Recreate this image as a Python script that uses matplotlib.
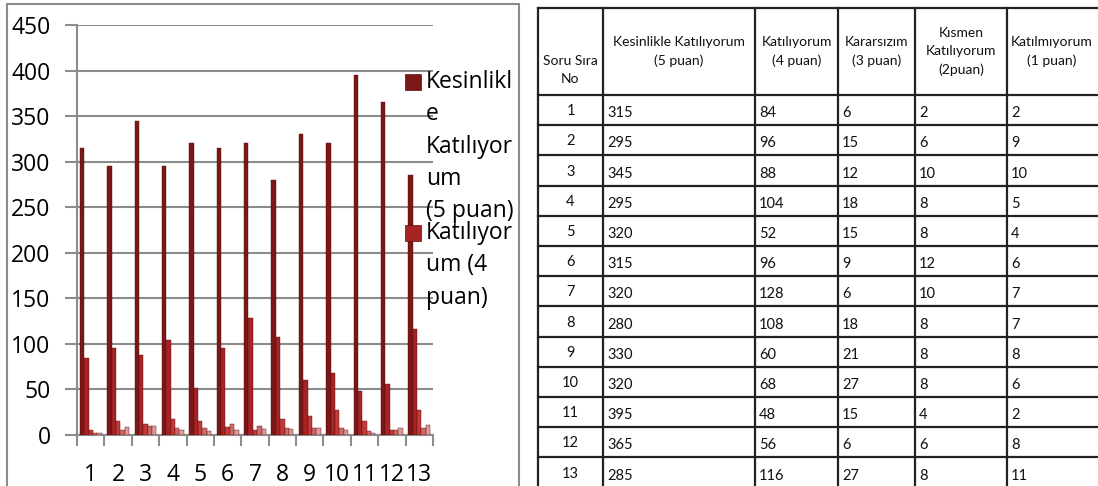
import numpy as np
import matplotlib
matplotlib.use("Agg")
import matplotlib.pyplot as plt
from matplotlib.patches import Rectangle

soru_no = ["1", "2", "3", "4", "5", "6", "7", "8", "9", "10", "11", "12", "13"]
kesinlikle = [315, 295, 345, 295, 320, 315, 320, 280, 330, 320, 395, 365, 285]
katiliyorum = [84, 96, 88, 104, 52, 96, 128, 108, 60, 68, 48, 56, 116]
kararsizim = [6, 15, 12, 18, 15, 9, 6, 18, 21, 27, 15, 6, 27]
kismen = [2, 6, 10, 8, 8, 12, 10, 8, 8, 8, 4, 6, 8]
katilmiyorum = [2, 9, 10, 5, 4, 6, 7, 7, 8, 6, 2, 8, 11]

basliklar = ["Soru Sıra\nNo", "Kesinlikle Katılıyorum\n(5 puan)", "Katılıyorum\n(4 puan)",
             "Kararsızım\n(3 puan)", "Kısmen\nKatılıyorum\n(2puan)", "Katılmıyorum\n(1 puan)"]
legend_labels = ["Kesinlikl\ne\nKatılıyor\num\n(5 puan)", "Katılıyor\num (4\npuan)"]

series = [kesinlikle, katiliyorum, kararsizim, kismen, katilmiyorum]
colors = ["#7a1818", "#a82424", "#c23a3a", "#cf6a6a", "#dc9a9a"]

W, H = 1098, 486
fig = plt.figure(figsize=(W / 100, H / 100), dpi=100)

# cadre gris du graphique
fig.patches.append(Rectangle((7 / W, -0.01), (519 - 7) / W, 1 - 4 / H + 0.01,
                             transform=fig.transFigure, fill=False,
                             edgecolor="#8c8c8c", linewidth=1.5))

ax = fig.add_axes([77 / W, 1 - 435 / H, (433 - 77) / W, (435 - 25) / H])
n = len(soru_no)
x = np.arange(n)
bw = 0.16
for i, s in enumerate(series):
    ax.bar(x - 0.4 + bw * (i + 0.5), s, width=bw, color=colors[i],
           edgecolor="#5a0e0e", linewidth=0.3, zorder=3)

ax.set_ylim(0, 450)
ax.set_xlim(-0.5, n - 0.5)
ax.set_yticks(np.arange(0, 451, 50))
ax.yaxis.grid(True, color="#8c8c8c", linewidth=1.5, zorder=0)
ax.tick_params(axis="y", length=9, width=1.5, color="#8c8c8c", labelsize=16.5, pad=10)
ax.set_xticks(x)
ax.set_xticklabels(soru_no, fontsize=16.5)
ax.set_xticks(np.arange(-0.5, n, 1), minor=True)
ax.tick_params(axis="x", which="major", length=0, pad=20, labelsize=16.5)
ax.tick_params(axis="x", which="minor", length=8, width=1.5, color="#8c8c8c")
for sp in ["top", "right"]:
    ax.spines[sp].set_visible(False)
ax.spines["left"].set_color("#8c8c8c")
ax.spines["bottom"].set_color("#8c8c8c")
ax.spines["left"].set_linewidth(1.5)
ax.spines["bottom"].set_linewidth(1.5)
for lab in ax.get_yticklabels() + ax.get_xticklabels():
    lab.set_fontfamily("Open Sans")

# legende tronquee
for lab, col, ytop in zip(legend_labels, colors[:2], [82, 233]):
    fig.patches.append(Rectangle((405 / W, 1 - (ytop + 8) / H), 16 / W, 16 / H,
                                 transform=fig.transFigure, facecolor=col,
                                 edgecolor="#5a0e0e", linewidth=0.5, zorder=5))
    fig.text(426 / W, 1 - (ytop - 12) / H, lab, fontsize=16.5, family="Open Sans",
             va="top", ha="left", linespacing=1.46, zorder=6)

# tableau
tx = fig.add_axes([0, 0, 1, 1])
tx.set_xlim(0, W)
tx.set_ylim(H, 0)
tx.axis("off")
cols = [538, 603, 755, 838, 915, 1007, 1100]
top, head_bot, row_h = 8, 95, 30.2
rows_y = [head_bot + row_h * k for k in range(n + 1)]
for cx in cols:
    tx.plot([cx, cx], [top, rows_y[-1] + 2], color="#222222", lw=1.6)
for ry in [top] + rows_y:
    tx.plot([cols[0], W], [ry, ry], color="#222222", lw=1.6)

for j, h in enumerate(basliklar):
    cy = 70 if j == 0 else (top + head_bot) / 2
    tx.text((cols[j] + cols[j + 1]) / 2 if j < 5 else cols[j] + 45, cy, h,
            ha="center", va="center", fontsize=10, family="Lato",
            linespacing=1.6, color="#111111")

data_cols = [kesinlikle, katiliyorum, kararsizim, kismen, katilmiyorum]
for r in range(n):
    cy = rows_y[r] + row_h / 2 + 1
    tx.text((cols[0] + cols[1]) / 2, cy, soru_no[r], ha="center", va="center",
            fontsize=10.5, family="Lato", color="#111111")
    for j, dc in enumerate(data_cols):
        tx.text(cols[j + 1] + 4, cy + 2, str(dc[r]), ha="left", va="center",
                fontsize=10.5, family="Lato", color="#111111")

fig.savefig("out.png", dpi=100)
